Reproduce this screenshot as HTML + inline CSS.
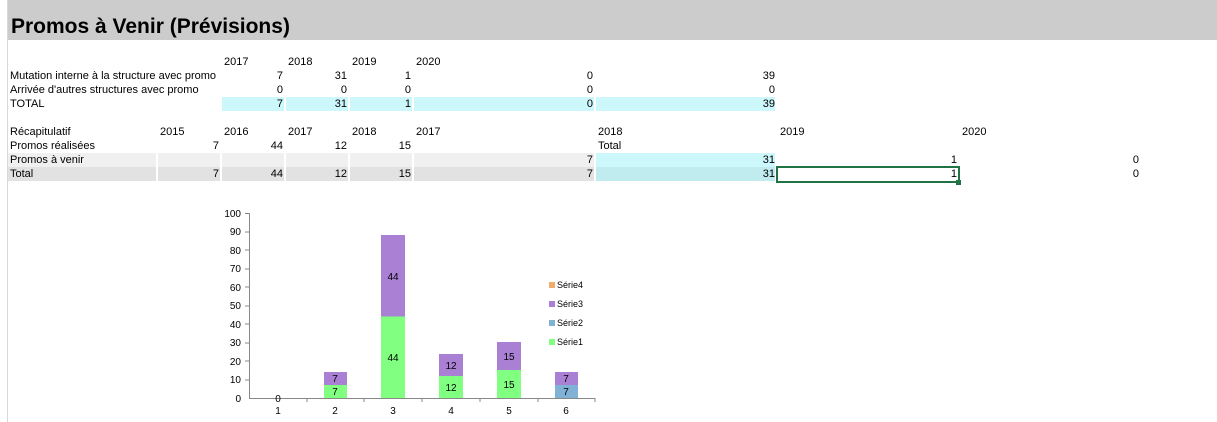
<!DOCTYPE html>
<html><head><meta charset="utf-8"><style>
body{margin:0;width:1217px;height:422px;overflow:hidden;background:#fff;position:relative;font-family:"Liberation Sans",Arial,sans-serif;font-size:11px;color:#000}
.a{position:absolute;white-space:nowrap;line-height:14px;height:14px}
.r{text-align:right}
.b{position:absolute}
.rn{position:absolute;left:-3px;font-size:11px;color:#333;line-height:14px}
</style></head><body>
<div class="b" style="left:8px;top:0;width:1209px;height:40px;background:#cccccc"></div>
<div class="a" style="left:11px;top:14px;font-size:21px;font-weight:bold;line-height:26px;height:26px">Promos à Venir (Prévisions)</div>
<div class="b" style="left:7px;top:0;width:1px;height:422px;background:#d8d8d8"></div>

<!-- highlight fills -->
<div class="b" style="left:222px;top:97px;width:62px;height:14px;background:#ccf7fb"></div>
<div class="b" style="left:286px;top:97px;width:62px;height:14px;background:#ccf7fb"></div>
<div class="b" style="left:350px;top:97px;width:62px;height:14px;background:#ccf7fb"></div>
<div class="b" style="left:414px;top:97px;width:180px;height:14px;background:#ccf7fb"></div>
<div class="b" style="left:596px;top:97px;width:179px;height:14px;background:#ccf7fb"></div>

<div class="b" style="left:8px;top:153px;width:148px;height:14px;background:#f0f0f0"></div>
<div class="b" style="left:158px;top:153px;width:62px;height:14px;background:#f0f0f0"></div>
<div class="b" style="left:222px;top:153px;width:62px;height:14px;background:#f0f0f0"></div>
<div class="b" style="left:286px;top:153px;width:62px;height:14px;background:#f0f0f0"></div>
<div class="b" style="left:350px;top:153px;width:62px;height:14px;background:#f0f0f0"></div>
<div class="b" style="left:414px;top:153px;width:180px;height:14px;background:#f0f0f0"></div>
<div class="b" style="left:596px;top:153px;width:179px;height:14px;background:#ccf7fb"></div>

<div class="b" style="left:8px;top:167px;width:148px;height:14px;background:#e2e2e2"></div>
<div class="b" style="left:158px;top:167px;width:62px;height:14px;background:#e2e2e2"></div>
<div class="b" style="left:222px;top:167px;width:62px;height:14px;background:#e2e2e2"></div>
<div class="b" style="left:286px;top:167px;width:62px;height:14px;background:#e2e2e2"></div>
<div class="b" style="left:350px;top:167px;width:62px;height:14px;background:#e2e2e2"></div>
<div class="b" style="left:414px;top:167px;width:180px;height:14px;background:#e2e2e2"></div>
<div class="b" style="left:596px;top:167px;width:179px;height:14px;background:#c0ecf0"></div>
<div class="b" style="left:776px;top:166px;width:180px;height:13px;border:2px solid #217346"></div>
<div class="b" style="left:956px;top:180px;width:5px;height:5px;background:#217346"></div>

<!-- row 6 -->
<div class="a" style="left:224px;top:55px">2017</div>
<div class="a" style="left:288px;top:55px">2018</div>
<div class="a" style="left:352px;top:55px">2019</div>
<div class="a" style="left:416px;top:55px">2020</div>
<!-- row 7 -->
<div class="a" style="left:10px;top:69px">Mutation interne à la structure avec promo</div>
<div class="a r" style="left:222px;width:61px;top:69px">7</div>
<div class="a r" style="left:286px;width:61px;top:69px">31</div>
<div class="a r" style="left:350px;width:61px;top:69px">1</div>
<div class="a r" style="left:414px;width:179px;top:69px">0</div>
<div class="a r" style="left:596px;width:179px;top:69px">39</div>
<!-- row 8 -->
<div class="a" style="left:10px;top:83px">Arrivée d'autres structures avec promo</div>
<div class="a r" style="left:222px;width:61px;top:83px">0</div>
<div class="a r" style="left:286px;width:61px;top:83px">0</div>
<div class="a r" style="left:350px;width:61px;top:83px">0</div>
<div class="a r" style="left:414px;width:179px;top:83px">0</div>
<div class="a r" style="left:596px;width:179px;top:83px">0</div>
<!-- row 9 -->
<div class="a" style="left:10px;top:97px">TOTAL</div>
<div class="a r" style="left:222px;width:61px;top:97px">7</div>
<div class="a r" style="left:286px;width:61px;top:97px">31</div>
<div class="a r" style="left:350px;width:61px;top:97px">1</div>
<div class="a r" style="left:414px;width:179px;top:97px">0</div>
<div class="a r" style="left:596px;width:179px;top:97px">39</div>
<!-- row 11 -->
<div class="a" style="left:10px;top:125px">Récapitulatif</div>
<div class="a" style="left:160px;top:125px">2015</div>
<div class="a" style="left:224px;top:125px">2016</div>
<div class="a" style="left:288px;top:125px">2017</div>
<div class="a" style="left:352px;top:125px">2018</div>
<div class="a" style="left:416px;top:125px">2017</div>
<div class="a" style="left:598px;top:125px">2018</div>
<div class="a" style="left:780px;top:125px">2019</div>
<div class="a" style="left:962px;top:125px">2020</div>
<!-- row 12 -->
<div class="a" style="left:10px;top:139px">Promos réalisées</div>
<div class="a r" style="left:158px;width:61px;top:139px">7</div>
<div class="a r" style="left:222px;width:61px;top:139px">44</div>
<div class="a r" style="left:286px;width:61px;top:139px">12</div>
<div class="a r" style="left:350px;width:61px;top:139px">15</div>
<div class="a" style="left:598px;top:139px">Total</div>
<!-- row 13 -->
<div class="a" style="left:10px;top:153px">Promos à venir</div>
<div class="a r" style="left:414px;width:179px;top:153px">7</div>
<div class="a r" style="left:596px;width:179px;top:153px">31</div>
<div class="a r" style="left:778px;width:179px;top:153px">1</div>
<div class="a r" style="left:960px;width:179px;top:153px">0</div>
<!-- row 14 -->
<div class="a" style="left:10px;top:167px">Total</div>
<div class="a r" style="left:158px;width:61px;top:167px">7</div>
<div class="a r" style="left:222px;width:61px;top:167px">44</div>
<div class="a r" style="left:286px;width:61px;top:167px">12</div>
<div class="a r" style="left:350px;width:61px;top:167px">15</div>
<div class="a r" style="left:414px;width:179px;top:167px">7</div>
<div class="a r" style="left:596px;width:179px;top:167px">31</div>
<div class="a r" style="left:778px;width:179px;top:167px">1</div>
<div class="a r" style="left:960px;width:179px;top:167px">0</div>

<svg class="b" style="left:0;top:0" width="1217" height="422" font-family="Liberation Sans, Arial, sans-serif" font-size="10">
<g stroke="#888" stroke-width="1">
<line x1="249.5" y1="213" x2="249.5" y2="398"/>
<line x1="249" y1="398.5" x2="595" y2="398.5"/>
<line x1="245" y1="213.5" x2="249" y2="213.5"/><line x1="245" y1="232" x2="249" y2="232"/><line x1="245" y1="250" x2="249" y2="250"/><line x1="245" y1="269" x2="249" y2="269"/><line x1="245" y1="287" x2="249" y2="287"/><line x1="245" y1="306" x2="249" y2="306"/><line x1="245" y1="324" x2="249" y2="324"/><line x1="245" y1="343" x2="249" y2="343"/><line x1="245" y1="361" x2="249" y2="361"/><line x1="245" y1="380" x2="249" y2="380"/>
<line x1="307" y1="398" x2="307" y2="402"/><line x1="364" y1="398" x2="364" y2="402"/><line x1="422" y1="398" x2="422" y2="402"/><line x1="480" y1="398" x2="480" y2="402"/><line x1="538" y1="398" x2="538" y2="402"/><line x1="595" y1="398" x2="595" y2="402"/>
</g>
<g text-anchor="end">
<text x="241" y="217">100</text><text x="241" y="235">90</text><text x="241" y="254">80</text><text x="241" y="272">70</text><text x="241" y="291">60</text><text x="241" y="309">50</text><text x="241" y="328">40</text><text x="241" y="346">30</text><text x="241" y="365">20</text><text x="241" y="383">10</text><text x="241" y="402">0</text>
</g>
<g text-anchor="middle">
<text x="278" y="414">1</text><text x="335" y="414">2</text><text x="393" y="414">3</text><text x="451" y="414">4</text><text x="509" y="414">5</text><text x="566" y="414">6</text>
</g>
<!-- bars -->
<rect x="324" y="385" width="23" height="13" fill="#80ff80"/><rect x="324" y="372" width="23" height="13" fill="#aa80d5"/>
<rect x="381" y="316.5" width="24" height="81.5" fill="#80ff80"/><rect x="381" y="235" width="24" height="81.5" fill="#aa80d5"/>
<rect x="439" y="376" width="24" height="22" fill="#80ff80"/><rect x="439" y="354" width="24" height="22" fill="#aa80d5"/>
<rect x="497" y="370" width="24" height="28" fill="#80ff80"/><rect x="497" y="342" width="24" height="28" fill="#aa80d5"/>
<rect x="555" y="385" width="23" height="13" fill="#7fb2d5"/><rect x="555" y="372" width="23" height="13" fill="#aa80d5"/>
<g text-anchor="middle" font-size="10">
<text x="278" y="402">0</text>
<text x="335" y="395">7</text><text x="335" y="382">7</text>
<text x="393" y="361">44</text><text x="393" y="280">44</text>
<text x="451" y="391">12</text><text x="451" y="369">12</text>
<text x="509" y="388">15</text><text x="509" y="360">15</text>
<text x="566" y="395">7</text><text x="566" y="382">7</text>
</g>
<rect x="549" y="282" width="6" height="6" fill="#f2ad6b"/><text x="557" y="288" font-size="9">Série4</text>
<rect x="549" y="301" width="6" height="6" fill="#aa80d5"/><text x="557" y="307" font-size="9">Série3</text>
<rect x="549" y="320" width="6" height="6" fill="#7fb2d5"/><text x="557" y="326" font-size="9">Série2</text>
<rect x="549" y="339" width="6" height="6" fill="#80ff80"/><text x="557" y="345" font-size="9">Série1</text>
</svg>
</body></html>
